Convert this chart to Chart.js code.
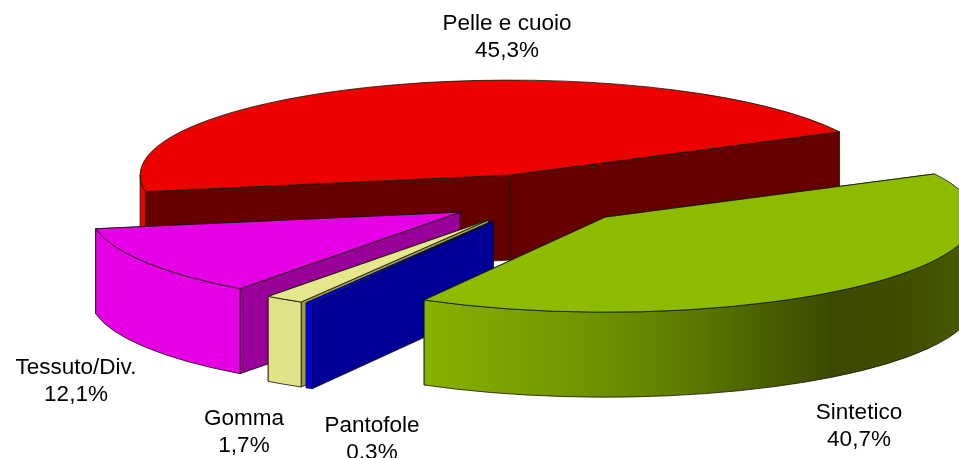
<!DOCTYPE html>
<html>
<head>
<meta charset="utf-8">
<style>
  html, body { margin: 0; padding: 0; background: #fff; overflow: hidden; }
  canvas { display: block; }
</style>
<script src="https://cdn.jsdelivr.net/npm/chart.js@4/dist/chart.umd.min.js"></script>
</head>
<body>
<canvas id="pie" width="959" height="458"></canvas>
<script>
// Data, clockwise from the Pelle e cuoio slice
const categories = ['Pelle e cuoio', 'Sintetico', 'Pantofole', 'Gomma', 'Tessuto/Div.'];
const shares = [45.3, 40.7, 0.3, 1.7, 12.1];

// Colours per slice
const topColors = ['#ee0000', '#8cbb00', '#0000ff', '#e6e68c', '#e600e6'];
const cutColors = ['#640000', '#5f8000', '#000099', '#99995c', '#990099'];
const rimColors = ['#ee0000', null, '#0000f0', '#e2e28a', '#e600e6'];
const rimGradient = [[0, '#86b200'], [0.3, '#6f9400'], [0.5, '#5a7800'], [0.646, '#465a00'], [0.742, '#3c4a00'], [0.864, '#3e4c00'], [1, '#4a5c00']];

// Label centres, first line of each
const labelAnchors = [[507, 24], [859, 413], [372, 426], [244, 419], [76, 368]];

// 3D look of the old spreadsheet pie
const center = { x: 540, y: 199 };
const radius = 370;
const squash = 0.2568;
const explodeSquash = 0.268;
const explode = 94;
const depth = 85;
const paintOrder = [0, 4, 3, 2, 1];
const edge = 'rgba(20, 20, 0, 0.8)';

function sliceGeometry(arc) {
    const mid = (arc.startAngle + arc.endAngle) / 2;
    return {
        cx: center.x + Math.cos(mid) * explode,
        cy: center.y + Math.sin(mid) * explode * explodeSquash,
        r: arc.outerRadius,
        ry: arc.outerRadius * squash,
        a0: arc.startAngle,
        a1: arc.endAngle
    };
}

function drawCut(ctx, g, angle, color) {
    const px = g.cx + Math.cos(angle) * g.r;
    const py = g.cy + Math.sin(angle) * g.ry;
    ctx.beginPath();
    ctx.moveTo(g.cx, g.cy);
    ctx.lineTo(px, py);
    ctx.lineTo(px, py + depth);
    ctx.lineTo(g.cx, g.cy + depth);
    ctx.closePath();
    ctx.fillStyle = color;
    ctx.fill();
    ctx.stroke();
}

function drawRim(ctx, g, color) {
    // only the front half of the ellipse faces us
    for (let k = -2; k <= 1; k++) {
        const lo = Math.max(g.a0, k * 2 * Math.PI);
        const hi = Math.min(g.a1, k * 2 * Math.PI + Math.PI);
        if (hi <= lo) continue;
        ctx.beginPath();
        ctx.ellipse(g.cx, g.cy, g.r, g.ry, 0, lo, hi);
        ctx.ellipse(g.cx, g.cy + depth, g.r, g.ry, 0, hi, lo, true);
        ctx.closePath();
        ctx.fillStyle = color;
        ctx.fill();
        ctx.stroke();
    }
}

const pie3d = {
    id: 'pie3d',
    beforeDatasetsDraw(chart) {
        const ctx = chart.ctx;
        const arcs = chart.getDatasetMeta(0).data;
        ctx.lineWidth = 1;
        ctx.strokeStyle = edge;
        paintOrder.forEach(i => {
            const arc = arcs[i];
            const g = sliceGeometry(arc);

            // walls, the cut nearer the viewer goes last
            const cuts = [g.a0, g.a1].sort((a, b) => Math.sin(a) - Math.sin(b));
            cuts.forEach(a => drawCut(ctx, g, a, cutColors[i]));
            let rim = rimColors[i];
            if (!rim) {
                rim = ctx.createLinearGradient(g.cx + Math.cos(g.a1) * g.r, 0, g.cx + g.r, 0);
                rimGradient.forEach(s => rim.addColorStop(s[0], s[1]));
            }
            drawRim(ctx, g, rim);

            // top face: the library's own arc, flattened
            ctx.save();
            ctx.translate(g.cx, g.cy);
            ctx.scale(1, squash);
            ctx.translate(-arc.x, -arc.y);
            arc.draw(ctx);
            ctx.restore();

            ctx.beginPath();
            ctx.moveTo(g.cx, g.cy);
            ctx.ellipse(g.cx, g.cy, g.r, g.ry, 0, g.a0, g.a1);
            ctx.closePath();
            ctx.stroke();
        });
        return false;
    },
    afterDraw(chart) {
        const ctx = chart.ctx;
        ctx.fillStyle = '#000';
        ctx.font = '22.5px "Liberation Sans", Arial, sans-serif';
        ctx.textAlign = 'center';
        ctx.textBaseline = 'middle';
        categories.forEach((name, i) => {
            const [x, y] = labelAnchors[i];
            ctx.fillText(name, x, y);
            ctx.fillText(shares[i].toFixed(1).replace('.', ',') + '%', x, y + 27);
        });
    }
};

new Chart(document.getElementById('pie').getContext('2d'), {
    type: 'pie',
    data: {
        labels: categories,
        datasets: [{
            data: shares,
            backgroundColor: topColors,
            borderWidth: 0
        }]
    },
    options: {
        responsive: false,
        animation: false,
        rotation: -100,
        radius: radius,
        plugins: {
            legend: { display: false },
            tooltip: { enabled: false }
        }
    },
    plugins: [pie3d]
});
</script>
</body>
</html>
